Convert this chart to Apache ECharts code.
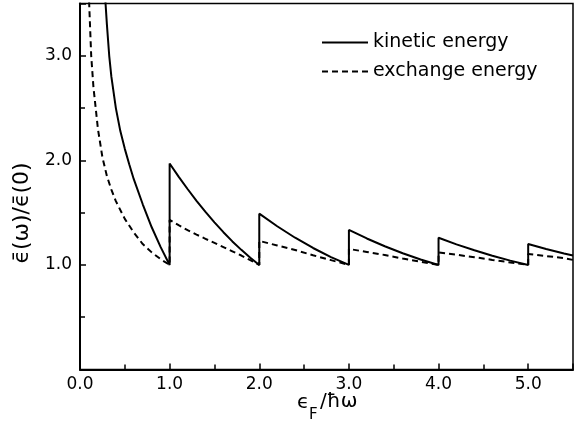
<!DOCTYPE html>
<html>
<head>
<meta charset="utf-8">
<script src="https://cdn.jsdelivr.net/npm/echarts@6/dist/echarts.min.js"></script>
<style>html,body{margin:0;padding:0;background:#fff;}#c{width:575px;height:427px;}</style>
</head>
<body>
<div id="c"></div>
<script>
// Values
var kineticX = [0.27,0.3,0.326,0.35,0.4,0.45,0.5,0.55,0.6,0.7,0.8,0.9,1.0,
  1.0,1.1,1.2,1.3,1.4,1.5,1.6,1.7,1.8,1.9,2.0,
  2.0,2.2,2.4,2.6,2.8,3.0,
  3.0,3.2,3.4,3.6,3.8,4.0,
  4.0,4.2,4.4,4.6,4.8,5.0,
  5.0,5.2,5.4,5.5];
var kineticY = [3.7,3.3,3.0,2.8,2.5,2.28,2.11,1.96,1.82,1.58,1.36,1.17,1.0,
  1.97,1.845,1.726,1.613,1.507,1.407,1.313,1.225,1.144,1.069,1.0,
  1.49,1.37,1.26,1.162,1.075,1.0,
  1.335,1.253,1.179,1.112,1.052,1.0,
  1.26,1.197,1.14,1.088,1.041,1.0,
  1.20,1.152,1.11,1.09];
var exchangeX = [0.09,0.1,0.125,0.15,0.2,0.25,0.3,0.35,0.4,0.5,0.6,0.7,0.8,0.9,1.0,
  1.0,1.1,1.2,1.3,1.4,1.5,1.6,1.7,1.8,1.9,2.0,
  2.0,2.2,2.4,2.6,2.8,3.0,
  3.0,3.2,3.4,3.6,3.8,4.0,
  4.0,4.2,4.4,4.6,4.8,5.0,
  5.0,5.2,5.4,5.5];
var exchangeY = [4.0,3.55,3.0,2.7,2.3,2.03,1.85,1.72,1.61,1.44,1.31,1.2,1.12,1.055,1.0,
  1.43,1.38,1.333,1.29,1.25,1.21,1.17,1.13,1.09,1.045,1.0,
  1.23,1.186,1.143,1.092,1.046,1.0,
  1.153,1.124,1.095,1.061,1.031,1.0,
  1.12,1.097,1.074,1.048,1.024,1.0,
  1.105,1.085,1.065,1.048];
var seriesNames = ['kinetic energy', 'exchange energy'];

function pairs(xs, ys){ return xs.map(function(x,i){ return [x, ys[i]]; }); }

var FONT = 'DejaVu Sans';
var chart = echarts.init(document.getElementById('c'), null, {renderer:'canvas'});
chart.setOption({
  animation: false,
  backgroundColor: '#fff',
  grid: {left: 80, right: 2, top: 3.5, bottom: 57.5, show: true, borderColor: '#000', borderWidth: 1.5, backgroundColor: 'transparent'},
  legend: {
    data: seriesNames, orient: 'vertical', left: 316, top: 28,
    itemWidth: 46, itemHeight: 14, itemGap: 10,
    itemStyle: {color: 'transparent', borderWidth: 0, opacity: 0},
    textStyle: {fontFamily: FONT, fontSize: 19, color: '#000'}
  },
  xAxis: {
    type: 'value', min: 0, max: 5.5, interval: 1,
    axisLine: {show: true, onZero: false, lineStyle: {color: '#000', width: 2}},
    axisTick: {show: true, inside: true, length: 6, lineStyle: {color: '#000', width: 1.5}},
    minorTick: {show: true, splitNumber: 2, length: 5, lineStyle: {color: '#000', width: 1.5}},
    splitLine: {show: false},
    axisLabel: {showMaxLabel: false, margin: 7, color: '#000', fontFamily: FONT, fontSize: 17,
      formatter: function(v){ return v.toFixed(1); }}
  },
  yAxis: {
    type: 'value', min: 0, max: 3.5, interval: 1,
    axisLine: {show: true, onZero: false, lineStyle: {color: '#000', width: 2}},
    axisTick: {show: true, inside: true, length: 6, lineStyle: {color: '#000', width: 1.5}},
    minorTick: {show: true, splitNumber: 2, length: 5, lineStyle: {color: '#000', width: 1.5}},
    splitLine: {show: false},
    axisLabel: {showMinLabel: false, showMaxLabel: false, margin: 8, color: '#000', fontFamily: FONT, fontSize: 17,
      formatter: function(v){ return v.toFixed(1); }}
  },
  series: [
    {name: seriesNames[0], type: 'line', data: pairs(kineticX, kineticY), showSymbol: false, symbol: 'none',
      smooth: false, clip: true,
      lineStyle: {color: '#000', width: 2}, itemStyle: {color: '#000'}},
    {name: seriesNames[1], type: 'line', data: pairs(exchangeX, exchangeY), showSymbol: false, symbol: 'none',
      smooth: false, clip: true,
      lineStyle: {color: '#000', width: 2, type: [6, 4]}, itemStyle: {color: '#000'}}
  ],
  graphic: [
    {type: 'text', x: 22, y: 213, rotation: Math.PI/2,
      style: {text: '\u03f5\u0304(\u03c9)/\u03f5\u0304(0)', fontFamily: FONT, fontSize: 22, fill: '#000', align: 'center', verticalAlign: 'middle'}},
    {type: 'text', x: 297, y: 403,
      style: {text: '\u03f5', fontFamily: FONT, fontSize: 20, fill: '#000', align: 'left', verticalAlign: 'middle'}},
    {type: 'text', x: 309, y: 415,
      style: {text: 'F', fontFamily: FONT, fontSize: 15, fill: '#000', align: 'left', verticalAlign: 'middle'}},
    {type: 'text', x: 320, y: 402,
      style: {text: '/\u0127\u03c9', fontFamily: FONT, fontSize: 20, fill: '#000', align: 'left', verticalAlign: 'middle'}}
  ]
});
</script>
</body>
</html>
